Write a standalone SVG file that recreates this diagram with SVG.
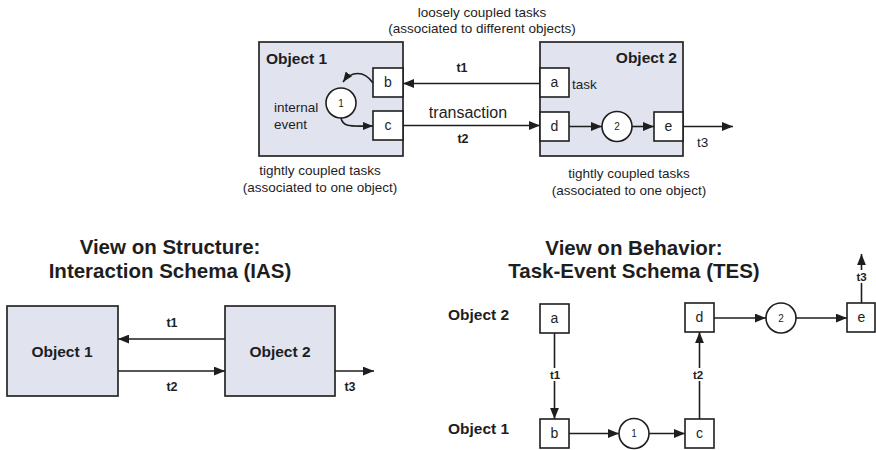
<svg xmlns="http://www.w3.org/2000/svg" width="876" height="450" viewBox="0 0 876 450">
  <style>
    text { font-family: "Liberation Sans", Arial, Helvetica, sans-serif; fill: #1e1e1e; }
    .obj { fill: #e1e3ef; stroke: #262626; stroke-width: 1.7; }
    .task { fill: #ffffff; stroke: #1e1e1e; stroke-width: 1.6; }
    .ev { fill: #ffffff; stroke: #1e1e1e; stroke-width: 1.6; }
    .ln { fill: none; stroke: #1e1e1e; stroke-width: 1.6; }
    .lbl { font-size: 13.5px; }
    .tk { font-size: 14px; text-anchor: middle; }
    .evt { font-size: 10px; text-anchor: middle; }
    .objname { font-size: 15.5px; font-weight: bold; }
    .title { font-size: 20.5px; font-weight: bold; text-anchor: middle; }
    .tl { font-size: 12.5px; font-weight: bold; text-anchor: middle; }
    .tls { font-size: 11.5px; font-weight: bold; text-anchor: middle; }
    .mid { text-anchor: middle; }
    .bg { fill: #ffffff; stroke: none; }
  </style>
  <defs>
    <marker id="arr" viewBox="0 0 10 8" refX="10" refY="4" markerWidth="11" markerHeight="9" markerUnits="userSpaceOnUse" orient="auto">
      <path d="M0,0 L10,4 L0,8 z" fill="#1e1e1e"/>
    </marker>
    <marker id="arrs" viewBox="0 0 10 8" refX="10" refY="4" markerWidth="10" markerHeight="8" markerUnits="userSpaceOnUse" orient="auto">
      <path d="M0,0 L10,4 L0,8 z" fill="#1e1e1e"/>
    </marker>
  </defs>

  <!-- ===== Top: objects with their tasks and events ===== -->
  <g id="top-captions">
    <text class="lbl mid" x="482" y="17">loosely coupled tasks</text>
    <text class="lbl mid" x="482" y="33">(associated to different objects)</text>
    <text class="lbl mid" x="320" y="175">tightly coupled tasks</text>
    <text class="lbl mid" x="320" y="192">(associated to one object)</text>
    <text class="lbl mid" x="629" y="178">tightly coupled tasks</text>
    <text class="lbl mid" x="629" y="195">(associated to one object)</text>
  </g>

  <g id="object1">
    <rect class="obj" x="259" y="42" width="144" height="114"/>
    <text class="objname" x="266" y="64">Object 1</text>
    <text class="lbl" x="274" y="112">internal</text>
    <text class="lbl" x="274" y="129">event</text>
  </g>
  <g id="object2">
    <rect class="obj" x="540" y="42" width="143" height="114"/>
    <text class="objname" x="677" y="63" text-anchor="end">Object 2</text>
    <text class="lbl" x="572" y="89">task</text>
  </g>

  <g id="task-b">
    <rect class="task" x="373" y="68" width="30" height="29"/>
    <text class="tk" x="388" y="87">b</text>
  </g>
  <g id="task-c">
    <rect class="task" x="373" y="111" width="30" height="29"/>
    <text class="tk" x="388" y="130">c</text>
  </g>
  <g id="event-1">
    <circle class="ev" cx="341" cy="103" r="15"/>
    <text class="evt" x="341" y="106.5">1</text>
  </g>
  <g id="task-a">
    <rect class="task" x="540" y="68" width="29" height="29"/>
    <text class="tk" x="554.5" y="87">a</text>
  </g>
  <g id="task-d">
    <rect class="task" x="540" y="112" width="29" height="29"/>
    <text class="tk" x="554.5" y="131">d</text>
  </g>
  <g id="event-2">
    <circle class="ev" cx="617" cy="126.5" r="15"/>
    <text class="evt" x="617" y="130">2</text>
  </g>
  <g id="task-e">
    <rect class="task" x="654" y="112" width="29" height="29"/>
    <text class="tk" x="668.5" y="131">e</text>
  </g>

  <!-- ===== Bottom left: interaction schema ===== -->
  <g id="ias-title">
    <text class="title" x="170" y="254">View on Structure:</text>
    <text class="title" x="170" y="278">Interaction Schema (IAS)</text>
  </g>
  <g id="ias-object1">
    <rect class="obj" x="7" y="306" width="111" height="90"/>
    <text class="objname mid" x="62" y="357">Object 1</text>
  </g>
  <g id="ias-object2">
    <rect class="obj" x="225" y="306" width="110" height="90"/>
    <text class="objname mid" x="280" y="357">Object 2</text>
  </g>

  <!-- ===== Bottom right: task-event schema ===== -->
  <g id="tes-title">
    <text class="title" x="634" y="255">View on Behavior:</text>
    <text class="title" x="634" y="278">Task-Event Schema (TES)</text>
  </g>
  <g id="tes-rows">
    <text class="objname" x="448" y="320">Object 2</text>
    <text class="objname" x="448" y="434">Object 1</text>
  </g>
  <g id="tes-a">
    <rect class="task" x="540" y="304" width="29" height="29"/>
    <text class="tk" x="554.5" y="323">a</text>
  </g>
  <g id="tes-d">
    <rect class="task" x="685" y="303" width="29" height="29"/>
    <text class="tk" x="699.5" y="322">d</text>
  </g>
  <g id="tes-ev2">
    <circle class="ev" cx="781" cy="318" r="15"/>
    <text class="evt" x="781" y="321.5">2</text>
  </g>
  <g id="tes-e">
    <rect class="task" x="847" y="303" width="28" height="29"/>
    <text class="tk" x="861.5" y="322">e</text>
  </g>
  <g id="tes-b">
    <rect class="task" x="540" y="419" width="29" height="29"/>
    <text class="tk" x="554.5" y="438">b</text>
  </g>
  <g id="tes-ev1">
    <circle class="ev" cx="634" cy="433.5" r="15"/>
    <text class="evt" x="634" y="437">1</text>
  </g>
  <g id="tes-c">
    <rect class="task" x="685" y="419" width="29" height="29"/>
    <text class="tk" x="699.5" y="438">c</text>
  </g>

  <!-- ===== Connectors ===== -->
  <g id="connectors">
    <!-- top -->
    <path class="ln" d="M373,83 C364,70 351,71 343,82" marker-end="url(#arrs)"/>
    <path class="ln" d="M341,118 C343,128 352,126 373,126" marker-end="url(#arrs)"/>
    <line class="ln" x1="540" y1="83.5" x2="403" y2="83.5" marker-end="url(#arr)"/>
    <text class="tl" x="462" y="72">t1</text>
    <line class="ln" x1="403" y1="125.5" x2="540" y2="125.5" marker-end="url(#arr)"/>
    <text style="font-size:16px" class="mid" x="468" y="118">transaction</text>
    <text class="tl" x="463" y="143">t2</text>
    <line class="ln" x1="569" y1="126.5" x2="602" y2="126.5" marker-end="url(#arr)"/>
    <line class="ln" x1="632" y1="126.5" x2="654" y2="126.5" marker-end="url(#arr)"/>
    <line class="ln" x1="683" y1="126.5" x2="733" y2="126.5" marker-end="url(#arr)"/>
    <text class="lbl" x="697" y="147">t3</text>

    <!-- interaction schema -->
    <line class="ln" x1="225" y1="339" x2="118" y2="339" marker-end="url(#arr)"/>
    <text class="tl" x="172" y="327">t1</text>
    <line class="ln" x1="118" y1="371" x2="225" y2="371" marker-end="url(#arr)"/>
    <text class="tl" x="172" y="391">t2</text>
    <line class="ln" x1="335" y1="371" x2="374" y2="371" marker-end="url(#arr)"/>
    <text class="tl" x="350" y="391">t3</text>

    <!-- task-event schema -->
    <line class="ln" x1="554.5" y1="333" x2="554.5" y2="419" marker-end="url(#arr)"/>
    <rect class="bg" x="548" y="368" width="14" height="13"/>
    <text class="tls" x="555" y="379">t1</text>
    <line class="ln" x1="699.5" y1="419" x2="699.5" y2="332" marker-end="url(#arr)"/>
    <rect class="bg" x="691" y="368" width="14" height="13"/>
    <text class="tls" x="698" y="379">t2</text>
    <line class="ln" x1="569" y1="433.5" x2="619" y2="433.5" marker-end="url(#arr)"/>
    <line class="ln" x1="649" y1="433.5" x2="685" y2="433.5" marker-end="url(#arr)"/>
    <line class="ln" x1="714" y1="318" x2="766" y2="318" marker-end="url(#arr)"/>
    <line class="ln" x1="796" y1="318" x2="847" y2="318" marker-end="url(#arr)"/>
    <line class="ln" x1="861.5" y1="303" x2="861.5" y2="254" marker-end="url(#arr)"/>
    <rect class="bg" x="855" y="270" width="14" height="13"/>
    <text class="tls" x="861.5" y="281">t3</text>
  </g>
</svg>
